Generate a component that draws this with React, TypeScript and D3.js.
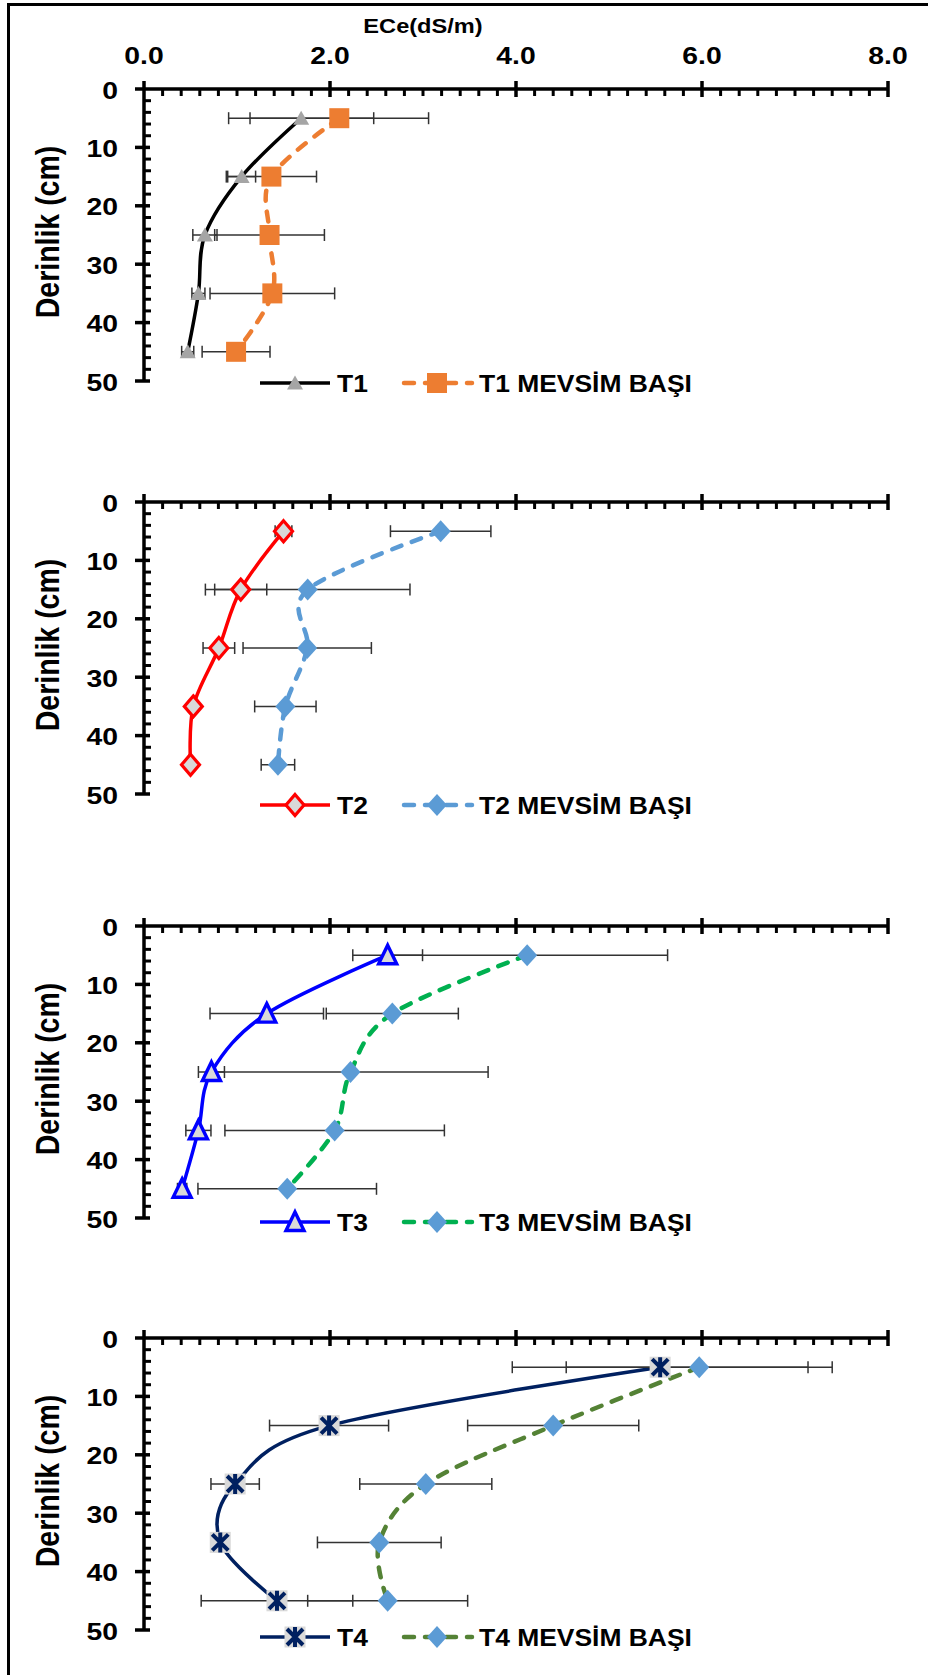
import React from 'react';
import * as d3 from 'd3';

// depths (cm) of the sampled layers
const depths = [5, 15, 25, 35, 45];
const xTicks = [0, 2, 4, 6, 8];
const yTicks = [0, 10, 20, 30, 40, 50];
const names = ['T1', 'T2', 'T3', 'T4'];
const mbSuffix = ' MEVSİM BAŞI';

// ECe values (dS/m) and error bar half widths
const t1 = [1.69, 1.05, 0.655, 0.585, 0.47];
const t1Err = [0.78, 0.15, 0.13, 0.07, 0.065];
const t1Mb = [2.1, 1.37, 1.35, 1.38, 0.99];
const t1MbErr = [0.96, 0.485, 0.59, 0.67, 0.365];

const t2 = [1.5, 1.04, 0.805, 0.53, 0.5];
const t2Err = [0.09, 0.28, 0.17, 0.05, 0.05];
const t2Mb = [3.19, 1.76, 1.755, 1.52, 1.44];
const t2MbErr = [0.54, 1.1, 0.69, 0.33, 0.18];

const t3 = [2.62, 1.32, 0.725, 0.585, 0.41];
const t3Err = [0.375, 0.61, 0.14, 0.135, 0.05];
const t3Mb = [4.12, 2.67, 2.22, 2.05, 1.54];
const t3MbErr = [1.51, 0.71, 1.48, 1.18, 0.96];

const t4 = [5.55, 1.99, 0.98, 0.82, 1.43];
const t4Err = [1.59, 0.64, 0.26, 0.05, 0.815];
const t4Mb = [5.97, 4.4, 3.03, 2.53, 2.62];
const t4MbErr = [1.43, 0.92, 0.71, 0.665, 0.86];

const W = 928;
const H = 1675;
const FONT = 'Liberation Sans, Arial, sans-serif';
const panelTops = [89, 502, 926, 1338];
const legendYs = [383, 805, 1222, 1637];
const plotH = 292;

const panels = [
	{ main: t1, err: t1Err, mb: t1Mb, mbErr: t1MbErr, line: '#000000', mbLine: '#ed7d31', marker: 'triGray', mbMarker: 'square' },
	{ main: t2, err: t2Err, mb: t2Mb, mbErr: t2MbErr, line: '#ff0000', mbLine: '#5b9bd5', marker: 'diamondRed', mbMarker: 'diamond' },
	{ main: t3, err: t3Err, mb: t3Mb, mbErr: t3MbErr, line: '#0000ff', mbLine: '#00b050', marker: 'triBlue', mbMarker: 'diamond' },
	{ main: t4, err: t4Err, mb: t4Mb, mbErr: t4MbErr, line: '#002060', mbLine: '#548235', marker: 'star', mbMarker: 'diamond' },
];

const x = d3.scaleLinear().domain([0, 8]).range([144, 888]);

const Marker = ({ kind, cx, cy }: { kind: string, cx: number, cy: number }) => {
	const t = `translate(${ cx },${ cy })`;
	if (kind === 'triGray') {
		return <path transform={ t } d="M0,-7.5L8,6.5L-8,6.5Z" fill="#a5a5a5"/>;
	}
	if (kind === 'square') {
		return <rect x={ cx - 10 } y={ cy - 10 } width={ 20 } height={ 20 } fill="#ed7d31"/>;
	}
	if (kind === 'diamond') {
		return <path transform={ t } d="M0,-11L10,0L0,11L-10,0Z" fill="#5b9bd5"/>;
	}
	if (kind === 'diamondRed') {
		return <path transform={ t } d="M0,-10.5L9,0L0,10.5L-9,0Z" fill="#d9d9d9" stroke="#ff0000" strokeWidth={ 3.2 }/>;
	}
	if (kind === 'triBlue') {
		return <path transform={ t } d="M0,-10L9,8.5L-9,8.5Z" fill="#d9d9d9" stroke="#0000ff" strokeWidth={ 3.4 }/>;
	}
	// star: gray square with an asterisk
	return (
		<g transform={ t }>
			<rect x={ -10.5 } y={ -10.5 } width={ 21 } height={ 21 } fill="#d9d9d9"/>
			<path d="M-8,-8L8,8M8,-8L-8,8M0,-10V10" stroke="#002060" strokeWidth={ 4 } fill="none"/>
		</g>
	);
};

const StretchText = ({ x: tx, y: ty, sx, size, anchor, children }:
	{ x: number, y: number, sx: number, size: number, anchor: string, children: React.ReactNode }) => (
	<text transform={ `translate(${ tx },${ ty }) scale(${ sx },1)` } textAnchor={ anchor }
		fontFamily={ FONT } fontWeight="bold" fontSize={ size } fill="#000">{ children }</text>
);

const Panel = ({ idx }: { idx: number }) => {
	const p = panels[idx];
	const top = panelTops[idx];
	const y = d3.scaleLinear().domain([0, 50]).range([top, top + plotH]);
	const line = d3.line<number>()
		.x((d) => x(d))
		.y((d, i) => y(depths[i]))
		.curve(d3.curveCardinal.tension(0));
	const dash = '10 11';
	const ly = legendYs[idx];
	const axisX = x(0);

	const errBars = (vals: number[], errs: number[], key: string) => vals.map((v, i) => {
		const cy = y(depths[i]);
		const x0 = x(v - errs[i]);
		const x1 = x(v + errs[i]);
		return (
			<g key={ key + i } stroke="#333" strokeWidth={ 1.5 }>
				<line x1={ x0 } x2={ x1 } y1={ cy } y2={ cy }/>
				<line x1={ x0 } x2={ x0 } y1={ cy - 6 } y2={ cy + 6 }/>
				<line x1={ x1 } x2={ x1 } y1={ cy - 6 } y2={ cy + 6 }/>
			</g>
		);
	});

	return (
		<g>
			{/* axes */}
			<g stroke="#000" strokeWidth={ 3.5 }>
				<line x1={ axisX - 9 } x2={ x(8) } y1={ y(0) } y2={ y(0) }/>
				<line x1={ axisX } x2={ axisX } y1={ y(0) - 8 } y2={ y(50) }/>
				{ x.ticks(32).filter((t) => t % 2 !== 0).map((t) => (
					<line key={ 'xm' + t } x1={ x(t) } x2={ x(t) } y1={ y(0) } y2={ y(0) + 7 } strokeWidth={ 3 }/>
				)) }
				{ xTicks.filter((t) => t > 0).map((t) => (
					<line key={ 'xM' + t } x1={ x(t) } x2={ x(t) } y1={ y(0) - 8 } y2={ y(0) + 8 }/>
				)) }
				{ y.ticks(20).filter((t) => t % 10 !== 0).map((t) => (
					<line key={ 'ym' + t } x1={ axisX } x2={ axisX + 7 } y1={ y(t) } y2={ y(t) } strokeWidth={ 3 }/>
				)) }
				{ yTicks.filter((t) => t > 0).map((t) => (
					<line key={ 'yM' + t } x1={ axisX - 9 } x2={ axisX + 6 } y1={ y(t) } y2={ y(t) }/>
				)) }
			</g>
			{ yTicks.map((t) => (
				<StretchText key={ 'yl' + t } x={ 118 } y={ y(t) + 9.5 } sx={ 1.18 } size={ 24 } anchor="end">{ t }</StretchText>
			)) }
			{ idx === 0 && xTicks.map((t) => (
				<StretchText key={ 'xl' + t } x={ x(t) } y={ 64 } sx={ 1.18 } size={ 24 } anchor="middle">{ t.toFixed(1) }</StretchText>
			)) }
			{ idx === 0 && (
				<StretchText x={ 423 } y={ 33 } sx={ 1.18 } size={ 20 } anchor="middle">ECe(dS/m)</StretchText>
			) }
			<text transform={ `translate(59,${ top + plotH / 2 - 3 }) scale(1.18,1) rotate(-90)` } textAnchor="middle"
				fontFamily={ FONT } fontWeight="bold" fontSize={ 28.5 }>Derinlik (cm)</text>

			{/* series lines */}
			<path d={ line(p.main) || '' } fill="none" stroke={ p.line } strokeWidth={ 3.5 }/>
			<path d={ line(p.mb) || '' } fill="none" stroke={ p.mbLine } strokeWidth={ 4.5 } strokeDasharray={ dash }
				strokeLinecap="round"/>
			{ errBars(p.main, p.err, 'e') }
			{ errBars(p.mb, p.mbErr, 'm') }
			{ p.main.map((v, i) => <Marker key={ 'a' + i } kind={ p.marker } cx={ x(v) } cy={ y(depths[i]) }/>) }
			{ p.mb.map((v, i) => <Marker key={ 'b' + i } kind={ p.mbMarker } cx={ x(v) } cy={ y(depths[i]) }/>) }

			{/* legend */}
			<line x1={ 260 } x2={ 330 } y1={ ly } y2={ ly } stroke={ p.line } strokeWidth={ 3.5 }/>
			<Marker kind={ p.marker } cx={ 295 } cy={ ly }/>
			<StretchText x={ 337 } y={ ly + 8.5 } sx={ 1.15 } size={ 23 } anchor="start">{ names[idx] }</StretchText>
			<line x1={ 404 } x2={ 472 } y1={ ly } y2={ ly } stroke={ p.mbLine } strokeWidth={ 4.5 } strokeDasharray={ dash }
				strokeLinecap="round"/>
			<Marker kind={ p.mbMarker } cx={ 437 } cy={ ly }/>
			<StretchText x={ 479 } y={ ly + 8.5 } sx={ 1.15 } size={ 23 } anchor="start">{ names[idx] + mbSuffix }</StretchText>
		</g>
	);
};

const App = () => (
	<svg width={ W } height={ H } style={ { position: 'absolute', left: 0, top: 0, background: '#fff' } }>
		<rect width={ W } height={ H } fill="#fff"/>
		<path d={ `M8.5,${ H }V4.5H${ W }` } fill="none" stroke="#000" strokeWidth={ 3 }/>
		{ panels.map((p, i) => <Panel key={ i } idx={ i }/>) }
	</svg>
);

export default App;
